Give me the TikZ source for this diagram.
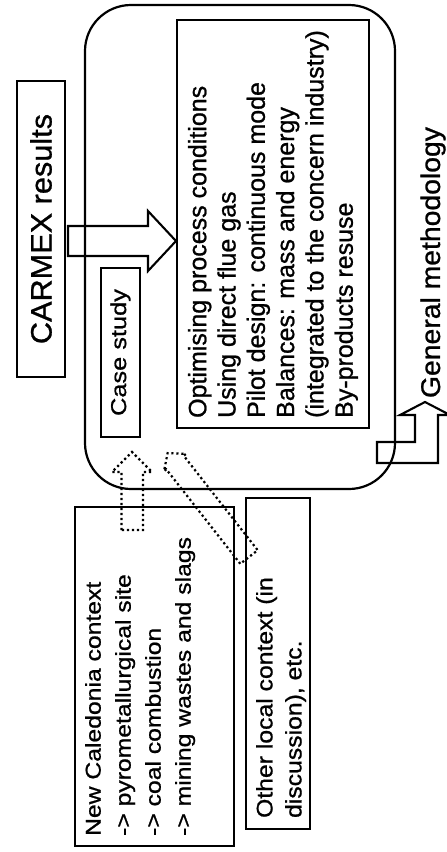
\documentclass[tikz,border=0pt]{standalone}
\usepackage{fontspec}
\setmainfont[FakeBold=0.8]{Liberation Sans}
\newfontfamily\fMain[FakeBold=0.9]{Liberation Sans}
\newfontfamily\fCar[FakeStretch=1.04,FakeBold=0.9]{Liberation Sans}
\newfontfamily\fCase[FakeStretch=1.18,FakeBold=0.9]{Liberation Sans}
\newfontfamily\fNC[FakeStretch=1.15,FakeBold=0.9]{Liberation Sans}
\newfontfamily\fOth[FakeStretch=1.1,FakeBold=0.9]{Liberation Sans}
\newfontfamily\fGen[FakeStretch=1.05,FakeBold=0.9]{Liberation Sans}
\usetikzlibrary{calc}
\begin{document}
\begin{tikzpicture}[x=1pt,y=-1pt,
  box/.style={draw, line width=2.2pt, inner sep=0pt},
  blockarrow/.style={draw, line width=2.1pt, line join=miter},
  dottedarrow/.style={draw, line width=2.2pt, dash pattern=on 2.2pt off 2.8pt, line join=miter},
  rtext/.style={rotate=90, inner sep=0pt, align=left}]
\useasboundingbox (0,0) rectangle (447,852);

% large rounded frame
\node[box, rounded corners=46pt, minimum width=310pt, minimum height=484pt] (frame) at (240,247) {};

% CARMEX results
\node[box, rotate=90, minimum width=296pt, minimum height=48pt,
      font=\fCar\fontsize{29.5}{33}\selectfont] (carmex) at (41,229) {CARMEX results};

% Case study
\node[box, rotate=90, minimum width=169pt, minimum height=39pt,
      font=\fCase\fontsize{21.5}{25}\selectfont] (case) at (120.5,352.5) {Case study};

% main text box
\node[box, rotate=90, minimum width=408pt, minimum height=192pt, align=left,
      font=\fMain\fontsize{25}{29.3}\selectfont] (tasks) at (273,224)
  {Optimising process conditions\\Using direct flue gas\\Pilot design: continuous mode\\Balances: mass and energy\\(integrated to the concern industry)\\By-products resuse};

% New Caledonia box
\node[box, minimum width=159pt, minimum height=339pt] (nc) at (154.5,676.5) {};
\node[rtext, anchor=north west, font=\fNC\fontsize{21.5}{30}\selectfont] (nctext)
  at ($(nc.south west)+(11,-11)$)
  {New Caledonia context\\-> pyrometallurgical site\\-> coal combustion\\-> mining wastes and slags};

% Other local context box
\node[box, minimum width=64pt, minimum height=331pt] (oth) at (278,663.5) {};
\node[rtext, anchor=north west, font=\fOth\fontsize{22.5}{29}\selectfont] (othtext)
  at ($(oth.south west)+(11,-12)$)
  {Other local context (in\\discussion), etc.};

% General methodology
\node[rotate=90, inner sep=0pt, font=\fGen\fontsize{27}{30}\selectfont] (gm) at (433,262.5) {General methodology};

% block arrow CARMEX -> tasks
\draw[blockarrow] (68,226) -- (148,226) -- (148,211) -- (176,241) -- (148,271) -- (148,256) -- (68,256) -- cycle;

% dotted arrow New Caledonia -> case study
\draw[dottedarrow] (121.5,530) -- (121.5,472) -- (112,472) -- (132,452) -- (152,472) -- (143,472) -- (143,530) -- cycle;

% dotted arrow Other local context -> frame
\draw[dottedarrow] (240.3,563.8) -- (166.3,469.3) -- (164.0,471.1) -- (167.6,453.1) -- (186.0,453.9) -- (183.7,455.7) -- (257.7,550.2) -- cycle;

% bent arrow for General methodology
\draw[blockarrow] (377,442) -- (415,442) -- (415,415) -- (400,415) -- (425,402) -- (450,415) -- (438,415) -- (438,463) -- (377,463) -- cycle;
\end{tikzpicture}
\end{document}
